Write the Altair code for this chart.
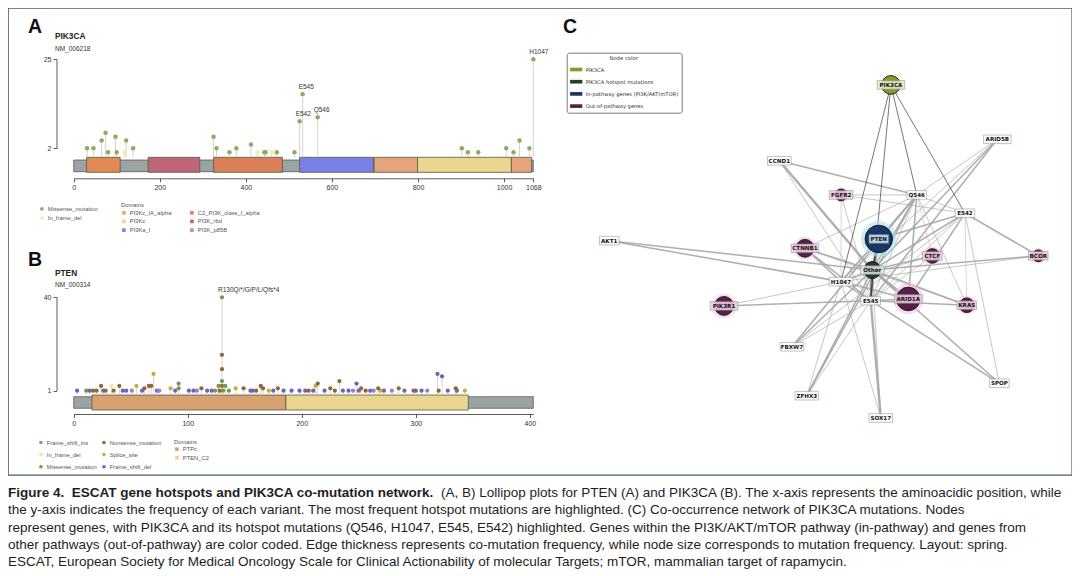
import altair as alt
import pandas as pd

# ============================ DATA ============================
# ---- Panel A : PIK3CA lollipop ----
A_GENE, A_TRANSCRIPT, A_LENGTH = "PIK3CA", "NM_006218", 1068
A_X_TICKS = [0, 200, 400, 600, 800, 1000, 1068]
A_Y_TICKS = [2, 25]
A_POS = [31, 46, 65, 74, 80, 97, 100, 118, 122, 138, 325, 332, 362, 378, 412, 427,
         443, 446, 460, 472, 513, 525, 532, 567, 902, 916, 940, 1005, 1022, 1036, 1059, 1068]
A_COUNT = [2, 2, 4, 6, 1, 5, 1, 1, 4, 2, 5, 2, 1, 2, 3, 1,
           1, 1, 1, 1, 1, 9, 16, 10, 2, 1, 1, 2, 1, 4, 2, 25]
A_TYPE = ["M", "M", "M", "M", "M", "M", "M", "I", "M", "M", "M", "M", "M", "M", "M", "I",
          "M", "M", "I", "M", "M", "M", "M", "M", "M", "M", "M", "M", "M", "M", "M", "M"]
A_HOTSPOTS = {525: "E542", 532: "E545", 567: "Q546", 1068: "H1047"}
A_TYPE_NAMES = {"M": "Missense_mutation", "I": "In_frame_del"}
A_MUT_CLASSES = ["Missense_mutation", "In_frame_del"]
A_MUT_COLORS = ["#8fab63", "#f5efa0"]
A_DOM_NAME = ["PI3K_p85B", "PI3K_rbd", "C2_PI3K_class_I_alpha", "PI3Ka_I",
              "PI3Kc_IA_alpha", "PI3Kc", "PI3Kc_IA_alpha"]
A_DOM_START = [30, 173, 325, 525, 698, 799, 1017]
A_DOM_END = [108, 293, 485, 697, 799, 1017, 1064]
A_DOM_CLASSES = ["PI3Kc_IA_alpha", "PI3Kc", "PI3Ka_I", "C2_PI3K_class_I_alpha", "PI3K_rbd", "PI3K_p85B"]
A_DOM_COLORS = ["#e6a47c", "#eed58f", "#7c7fe6", "#dc7f59", "#bf6479", "#e28a55"]

# ---- Panel B : PTEN lollipop ----
B_GENE, B_TRANSCRIPT, B_LENGTH = "PTEN", "NM_000314", 403
B_X_TICKS = [0, 100, 200, 300, 400]
B_Y_TICKS = [1, 40]
B_POS = [3, 11, 14, 17, 20, 24, 26, 28, 33, 35,
         40, 43, 46, 51, 55, 60, 62, 66, 68, 70,
         73, 75, 85, 89, 92, 92, 101, 105, 108, 112,
         117, 121, 124, 127, 128, 130, 130, 130, 130, 130,
         131, 133, 136, 142, 149, 155, 157, 160, 164, 166,
         171, 175, 179, 184, 191, 198, 203, 206, 210, 212,
         214, 220, 225, 229, 233, 236, 241, 245, 248, 250,
         252, 256, 260, 263, 267, 269, 272, 279, 285, 290,
         298, 300, 305, 310, 319, 320, 323, 328, 335, 336,
         343]
B_COUNT = [1, 1, 1, 1, 1, 3, 1, 1, 3, 1,
           3, 1, 1, 1, 3, 1, 2, 3, 3, 8,
           1, 1, 2, 1, 4, 2, 1, 1, 1, 2,
           1, 1, 1, 3, 1, 40, 16, 10, 5, 3,
           1, 3, 1, 2, 2, 1, 1, 1, 3, 2,
           1, 1, 2, 1, 1, 1, 1, 1, 1, 3,
           4, 1, 2, 1, 5, 1, 1, 1, 4, 1,
           2, 1, 1, 1, 2, 1, 1, 1, 2, 1,
           1, 1, 1, 1, 8, 1, 7, 1, 2, 1,
           1]
B_TYPE = ["FD", "MI", "FD", "NO", "NO", "NO", "FD", "NO", "ID", "NO",
          "NO", "FD", "FD", "FI", "SP", "FD", "NO", "NO", "NO", "SP",
          "FD", "FI", "SP", "FD", "MI", "MI", "FD", "FD", "FI", "NO",
          "FD", "FD", "MI", "MI", "NO", "MI", "NO", "NO", "MI", "NO",
          "MI", "MI", "MI", "SP", "NO", "FD", "FD", "NO", "NO", "NO",
          "SP", "FD", "NO", "FD", "FD", "FD", "FD", "NO", "FD", "SP",
          "NO", "FD", "NO", "NO", "NO", "FD", "FD", "FI", "FD", "FD",
          "NO", "NO", "FD", "FI", "NO", "SP", "FD", "FI", "NO", "FD",
          "FD", "NO", "FD", "FI", "FD", "NO", "FD", "FD", "NO", "FD",
          "SP"]
B_HOTSPOTS = {130: "R130Q/*/G/P/L/Qfs*4"}
B_TYPE_NAMES = {"FI": "Frame_shift_ins", "NO": "Nonsense_mutation", "ID": "In_frame_del",
                "SP": "Splice_site", "MI": "Missense_mutation", "FD": "Frame_shift_del"}
B_MUT_CLASSES = ["Frame_shift_ins", "In_frame_del", "Missense_mutation",
                 "Nonsense_mutation", "Splice_site", "Frame_shift_del"]
B_MUT_COLORS = ["#9285cb", "#f3ea98", "#74994b", "#93663a", "#c6b03c", "#7260c0"]
B_DOM_NAME = ["PTPc", "PTEN_C2"]
B_DOM_START = [16, 186]
B_DOM_END = [186, 346]
B_DOM_COLORS = ["#d8a171", "#ecd592"]

# ---- Panel C : co-mutation network (spring layout coordinates) ----
NODE_NAME = ["PIK3CA", "Q546", "E542", "H1047", "E545", "Other", "PTEN", "AKT1", "PIK3R1", "ARID1A",
             "CTNNB1", "KRAS", "CTCF", "FGFR2", "BCOR", "ARID5B", "CCND1", "FBXW7", "ZFHX3", "SOX17", "SPOP"]
NODE_X = [0.293, 0.408, 0.622, 0.071, 0.203, 0.210, 0.239, -0.959, -0.449, 0.370,
          -0.089, 0.630, 0.477, 0.072, 0.948, 0.766, -0.203, -0.147, -0.081, 0.248, 0.775]
NODE_Y = [0.971, 0.324, 0.216, -0.186, -0.298, -0.118, 0.065, 0.055, -0.329, -0.288,
          0.010, -0.325, -0.035, 0.324, -0.034, 0.651, 0.525, -0.569, -0.857, -0.988, -0.784]
NODE_GROUP = ["P", "H", "H", "H", "H", "H", "I", "I", "O", "O",
              "O", "O", "O", "O", "O", "O", "O", "O", "O", "O", "O"]
NODE_FREQ = [28, 0, 0, 0, 0, 23, 60, 0, 28, 44, 25, 17, 17, 11, 11, 0, 0, 0, 0, 0, 0]
GROUP_NAMES = {"P": "PIK3CA", "H": "PIK3CA hotspot mutations",
               "I": "In-pathway genes (PI3K/AKT/mTOR)", "O": "Out-of-pathway genes"}
GROUP_CLASSES = ["PIK3CA", "PIK3CA hotspot mutations", "In-pathway genes (PI3K/AKT/mTOR)", "Out-of-pathway genes"]
GROUP_COLORS = ["#8a9a2a", "#263d2a", "#1a3568", "#56204a"]

EDGE_SRC = ["PIK3CA", "PIK3CA", "PIK3CA", "PIK3CA",
            "Other", "PTEN", "PTEN", "PTEN", "PTEN", "PTEN",
            "Other", "Other", "Other", "H1047", "Q546", "Q546", "E542", "Q546",
            "CCND1", "CCND1", "CCND1", "ARID5B", "ARID5B", "ARID5B", "ARID5B",
            "FGFR2", "FGFR2", "FGFR2", "FGFR2", "AKT1", "AKT1",
            "CTNNB1", "CTNNB1", "CTNNB1", "CTNNB1", "CTNNB1", "PIK3R1", "PIK3R1",
            "FBXW7", "FBXW7", "FBXW7", "FBXW7", "ZFHX3", "ZFHX3", "ZFHX3", "ZFHX3",
            "SOX17", "SOX17", "SOX17", "SPOP", "SPOP", "SPOP", "BCOR", "BCOR", "BCOR",
            "KRAS", "KRAS", "KRAS", "KRAS", "ARID1A", "ARID1A", "ARID1A", "ARID1A", "ARID1A",
            "CTCF", "CTCF", "CTCF", "CTCF"]
EDGE_DST = ["Q546", "E542", "H1047", "E545",
            "E545", "Other", "E545", "H1047", "Q546", "E542",
            "H1047", "Q546", "E542", "E545", "E542", "H1047", "E545", "E545",
            "Q546", "Other", "E545", "Q546", "Other", "E545", "H1047",
            "Q546", "E542", "H1047", "E545", "H1047", "Other",
            "Other", "E545", "Q546", "KRAS", "H1047", "E545", "H1047",
            "Q546", "E545", "Other", "E542", "Other", "E545", "Q546", "H1047",
            "E545", "Other", "H1047", "E545", "E542", "Other", "Other", "E542", "H1047",
            "Other", "E545", "Q546", "E542", "Other", "E545", "H1047", "Q546", "E542",
            "Other", "E545", "Q546", "H1047"]
EDGE_W = [1, 1, 1, 1,
          3, 3, 2, 2, 2, 2,
          2, 2, 2, 2, 1, 1, 1, 1,
          2, 3, 1, 1, 2, 2, 1,
          1, 1, 1, 1, 2, 2,
          2, 2, 1, 1, 2, 2, 1,
          2, 1, 2, 1, 2, 1, 2, 1,
          3, 1, 1, 2, 1, 2, 2, 2, 1,
          2, 2, 1, 1, 3, 2, 2, 2, 2,
          2, 1, 1, 1]
EDGE_KIND = ["k", "k", "k", "k",
             "d", "d", "g", "g", "g", "g",
             "g", "g", "g", "g", "g", "g", "g", "g",
             "g", "g", "g", "g", "g", "g", "g",
             "g", "g", "p", "g", "g", "g",
             "g", "g", "g", "g", "g", "g", "g",
             "g", "g", "g", "g", "g", "g", "g", "g",
             "g", "g", "g", "g", "g", "g", "g", "g", "g",
             "g", "g", "g", "p", "g", "g", "g", "g", "g",
             "g", "g", "p", "g"]

CAPTION_BOLD = "Figure 4.\u00a0 ESCAT gene hotspots and PIK3CA co-mutation network."
CAPTION_LINES = [
    "(A, B) Lollipop plots for PTEN (A) and PIK3CA (B). The x-axis represents the aminoacidic position, while",
    "the y-axis indicates the frequency of each variant. The most frequent hotspot mutations are highlighted. (C) Co-occurrence network of PIK3CA mutations. Nodes",
    "represent genes, with PIK3CA and its hotspot mutations (Q546, H1047, E545, E542) highlighted. Genes within the PI3K/AKT/mTOR pathway (in-pathway) and genes from",
    "other pathways (out-of-pathway) are color coded. Edge thickness represents co-mutation frequency, while node size corresponds to mutation frequency. Layout: spring.",
    "ESCAT, European Society for Medical Oncology Scale for Clinical Actionability of molecular Targets; mTOR, mammalian target of rapamycin.",
]

# ============================ LAYOUT / STYLE ============================
SANS = "Liberation Sans"
NET_FONT = "DejaVu Sans"
W, H = 1064, 467
YAXIS_X = 48.5
A_XR, A_YR = [65.7, 525.3], [140.3, 51.3]
A_BACKBONE, A_BAND, A_XAXIS_Y = (152.0, 163.7), (149.3, 164.3), 170.3
B_XR, B_YR = [65.7, 525.3], [382.7, 289.3]
B_BACKBONE, B_BAND, B_XAXIS_Y = (388.7, 400.3), (387.0, 402.0), 406.0
C_XR, C_YR = [592, 1042], [412, 72]
PX_X = (C_XR[1] - C_XR[0]) / 2.0
PX_Y = (C_YR[0] - C_YR[1]) / 2.0
BOX_CHAR, BOX_PAD, BOX_H = 4.0, 3.6, 8.6
CAP_SIZE, CAP_Y0, CAP_DY, CAP_SPLIT_X = 13.5, 485.0, 17.3, 433


def x_axis(values, axis_y):
    return alt.Axis(orient="bottom", offset=axis_y - H, values=values, title=None, grid=False,
                    format="d", labelFont=SANS, labelFontSize=7, labelColor="#333",
                    labelPadding=2, labelOverlap=False, labelFlush=False,
                    tickColor="#333", tickWidth=0.8, tickSize=3.5,
                    domainColor="#333", domainWidth=0.8)


def y_axis(values):
    return alt.Axis(orient="left", offset=-YAXIS_X, values=values, title=None, grid=False,
                    format="d", labelFont=SANS, labelFontSize=7, labelColor="#333",
                    labelPadding=2, labelOverlap=False, labelFlush=False,
                    tickColor="#333", tickWidth=0.8, tickSize=3.5,
                    domainColor="#333", domainWidth=0.8)


def legend(**kw):
    base = dict(orient="none", labelFont=SANS, labelFontSize=5.8, labelColor="#555",
                titleFont=SANS, titleFontSize=5.8, titleFontWeight="normal", titleColor="#555",
                symbolSize=13, padding=0, labelOffset=3, symbolStrokeWidth=0, titlePadding=2)
    base.update(kw)
    return alt.Legend(**base)


def lollipop(pos, count, types, type_names, hotspots, length, xr, ydom, yr, xticks, yticks,
             backbone, band, axis_y, dom_name, dom_start, dom_end, mut_classes, mut_colors,
             dom_classes, dom_colors, mut_leg, dom_leg, stem_color, pt_size):
    mut = pd.DataFrame({"pos": pos, "count": count, "type": [type_names[t] for t in types]})
    mut = mut.sort_values("count").reset_index(drop=True)
    stems = mut.groupby("pos", as_index=False)["count"].max()
    stems["label"] = [hotspots.get(p, "") for p in stems["pos"]]
    doms = pd.DataFrame({"name": dom_name, "start": dom_start, "end": dom_end})
    bb = pd.DataFrame({"start": [0], "end": [length]})
    xs = alt.Scale(domain=[0, length], range=xr, nice=False, zero=False)
    ys = alt.Scale(domain=ydom, range=yr, nice=False, zero=False)
    xa, ya = x_axis(xticks, axis_y), y_axis(yticks)

    l_bb = alt.Chart(bb).mark_rect(fill="#9ba4a4", stroke="#4a4a4a", strokeWidth=0.7).encode(
        x=alt.X("start:Q", scale=xs, axis=xa), x2="end:Q",
        y=alt.value(backbone[0]), y2=alt.value(backbone[1]))
    l_dom = alt.Chart(doms).mark_rect(stroke="#4f5f35", strokeWidth=0.8).encode(
        x=alt.X("start:Q", scale=xs, axis=xa), x2="end:Q",
        y=alt.value(band[0]), y2=alt.value(band[1]),
        fill=alt.Fill("name:N", scale=alt.Scale(domain=dom_classes, range=dom_colors), legend=dom_leg))
    l_stem = alt.Chart(stems).mark_rule(color=stem_color, strokeWidth=0.8).encode(
        x=alt.X("pos:Q", scale=xs, axis=xa), y=alt.Y("count:Q", scale=ys, axis=ya),
        y2=alt.value(band[0]))
    l_pts = alt.Chart(mut).mark_circle(size=pt_size, opacity=1).encode(
        x=alt.X("pos:Q", scale=xs, axis=xa), y=alt.Y("count:Q", scale=ys, axis=ya),
        color=alt.Color("type:N", scale=alt.Scale(domain=mut_classes, range=mut_colors), legend=mut_leg))
    l_lab = alt.Chart(stems[stems["label"] != ""]).mark_text(
        align="left", baseline="bottom", dx=-4, dy=-4, font=SANS, fontSize=6.5, color="#333").encode(
        x=alt.X("pos:Q", scale=xs, axis=xa), y=alt.Y("count:Q", scale=ys, axis=ya), text="label:N")
    return alt.layer(l_bb, l_dom, l_stem, l_pts, l_lab)


panel_a = lollipop(
    A_POS, A_COUNT, A_TYPE, A_TYPE_NAMES, A_HOTSPOTS, A_LENGTH, A_XR, [2, 25], A_YR, A_X_TICKS, A_Y_TICKS,
    A_BACKBONE, A_BAND, A_XAXIS_Y, A_DOM_NAME, A_DOM_START, A_DOM_END, A_MUT_CLASSES, A_MUT_COLORS,
    A_DOM_CLASSES, A_DOM_COLORS,
    legend(title=None, legendX=31, legendY=198, rowPadding=2.2, symbolType="circle"),
    legend(title="Domains", legendX=113, legendY=194, columns=2, columnPadding=17, rowPadding=1.7,
           symbolType="square"),
    "#c9c6c6", 20)

panel_b = lollipop(
    B_POS, B_COUNT, B_TYPE, B_TYPE_NAMES, B_HOTSPOTS, B_LENGTH, B_XR, [1, 40], B_YR, B_X_TICKS, B_Y_TICKS,
    B_BACKBONE, B_BAND, B_XAXIS_Y, B_DOM_NAME, B_DOM_START, B_DOM_END, B_MUT_CLASSES, B_MUT_COLORS,
    B_DOM_NAME, B_DOM_COLORS,
    legend(title=None, legendX=30, legendY=431.5, columns=2, columnPadding=4, rowPadding=5.2,
           symbolType="circle"),
    legend(title="Domains", legendX=166, legendY=430.5, rowPadding=1.5, symbolType="square"),
    "#d3c8c8", 18)

# ---- Panel C ----
nodes = pd.DataFrame({"name": NODE_NAME, "x": NODE_X, "y": NODE_Y,
                      "group": [GROUP_NAMES[g] for g in NODE_GROUP], "freq": NODE_FREQ})
nodes["halo"] = nodes["freq"] * 1.7
nodes["halo_col"] = ["#f3c4e0" if g == "O" else ("#a9e3ea" if g == "I" else "") for g in NODE_GROUP]
box_fill = {"P": "#e4e8c4", "H": "#dfe4df", "I": "#c8e6ee", "O": "#f0cfe3"}
nodes["boxfill"] = [box_fill[g] if f > 0 else "#ffffff" for g, f in zip(NODE_GROUP, NODE_FREQ)]
hw = (nodes["name"].str.len() * BOX_CHAR + BOX_PAD) / 2.0 / PX_X
hh = BOX_H / 2.0 / PX_Y
nodes["bx1"], nodes["bx2"] = nodes["x"] - hw, nodes["x"] + hw
nodes["by1"], nodes["by2"] = nodes["y"] - hh, nodes["y"] + hh

npos = {n: (x, y) for n, x, y in zip(NODE_NAME, NODE_X, NODE_Y)}
edge_col = {"k": "#262626", "d": "#5e5e5e", "g": "#a6a6a6", "p": "#e4aacb"}
edges = pd.DataFrame({"src": EDGE_SRC, "dst": EDGE_DST, "w": EDGE_W, "kind": EDGE_KIND})
edges["x"] = [npos[s][0] for s in edges["src"]]
edges["y"] = [npos[s][1] for s in edges["src"]]
edges["x2"] = [npos[d][0] for d in edges["dst"]]
edges["y2"] = [npos[d][1] for d in edges["dst"]]
edges["col"] = [edge_col[k] for k in edges["kind"]]
edges = pd.concat([edges[edges["kind"] == "g"], edges[edges["kind"] == "p"],
                   edges[edges["kind"] == "d"], edges[edges["kind"] == "k"]])

xc = alt.Scale(domain=[-1, 1], range=C_XR, nice=False, zero=False)
yc = alt.Scale(domain=[-1, 1], range=C_YR, nice=False, zero=False)
size_sc = alt.Scale(domain=[0, 60], range=[0, 755], zero=True, nice=False)
X = alt.X("x:Q", scale=xc, axis=None)
Y = alt.Y("y:Q", scale=yc, axis=None)

c_edges = alt.Chart(edges).mark_rule(opacity=0.9).encode(
    x=X, y=Y, x2="x2:Q", y2="y2:Q",
    stroke=alt.Stroke("col:N", scale=None),
    strokeWidth=alt.StrokeWidth("w:Q", scale=alt.Scale(domain=[1, 3], range=[0.7, 2.4]), legend=None))
c_halo = alt.Chart(nodes[(nodes["freq"] > 0) & (nodes["halo_col"] != "")]).mark_circle(opacity=0.6).encode(
    x=X, y=Y, size=alt.Size("halo:Q", scale=size_sc, legend=None),
    fill=alt.Fill("halo_col:N", scale=None))
c_nodes = alt.Chart(nodes[nodes["freq"] > 0]).mark_circle(opacity=1, stroke="#141414", strokeWidth=0.9).encode(
    x=X, y=Y, size=alt.Size("freq:Q", scale=size_sc, legend=None),
    color=alt.Color("group:N", scale=alt.Scale(domain=GROUP_CLASSES, range=GROUP_COLORS),
                    legend=alt.Legend(title="Node color", orient="none", legendX=558.7, legendY=44.7,
                                      titleAnchor="middle", titleFont=NET_FONT, titleFontSize=5.3,
                                      titleFontWeight="normal", titleColor="#333", titlePadding=2,
                                      labelFont=NET_FONT, labelFontSize=5.2, labelColor="#333",
                                      symbolType="M-1,-0.3L1,-0.3L1,0.3L-1,0.3Z", symbolSize=150,
                                      symbolStrokeWidth=0, symbolOpacity=1, rowPadding=2.2, labelOffset=3,
                                      padding=3, strokeColor="#7a7a7a", fillColor="#ffffff",
                                      cornerRadius=2)))
c_boxes = alt.Chart(nodes).mark_rect(stroke="#8a8a8a", strokeWidth=0.6, opacity=0.88).encode(
    x=alt.X("bx1:Q", scale=xc, axis=None), x2="bx2:Q",
    y=alt.Y("by1:Q", scale=yc, axis=None), y2="by2:Q",
    fill=alt.Fill("boxfill:N", scale=None))
c_text = alt.Chart(nodes).mark_text(font=NET_FONT, fontWeight="bold", fontSize=5.6, color="#141414",
                                    align="center", baseline="middle").encode(x=X, y=Y, text="name:N")
panel_c = alt.layer(c_edges, c_halo, c_nodes, c_boxes, c_text)


def text_layer(txt, x, y, size, weight="normal", font=SANS, color="#1a1a1a", align="left", baseline="alphabetic"):
    return alt.Chart(pd.DataFrame({"t": [txt]})).mark_text(
        align=align, baseline=baseline, font=font, fontSize=size, fontWeight=weight, color=color
    ).encode(x=alt.value(x), y=alt.value(y), text="t:N")


titles = [
    text_layer("A", 20, 24.5, 19.5, "bold", color="#111"),
    text_layer(A_GENE, 47, 31, 8.3, "bold", color="#222"),
    text_layer(A_TRANSCRIPT, 47, 42.5, 6.5, color="#333"),
    text_layer("B", 20, 258, 19.5, "bold", color="#111"),
    text_layer(B_GENE, 47, 268.3, 8.3, "bold", color="#222"),
    text_layer(B_TRANSCRIPT, 47, 279, 6.5, color="#333"),
    text_layer("C", 555, 25.3, 19.5, "bold", color="#111"),
]
caption = [text_layer(CAPTION_BOLD, 0, CAP_Y0, CAP_SIZE, "bold", font=SANS, color="#1e1e1e", baseline="middle")]
caption.append(text_layer(CAPTION_LINES[0], CAP_SPLIT_X, CAP_Y0, CAP_SIZE, font=SANS, color="#1e1e1e", baseline="middle"))
for i, line in enumerate(CAPTION_LINES[1:], start=1):
    caption.append(text_layer(line, 0, CAP_Y0 + i * CAP_DY, CAP_SIZE, font=SANS, color="#1e1e1e", baseline="middle"))

chart = alt.layer(panel_a, panel_b, panel_c, *titles, *caption).resolve_scale(
    x="independent", y="independent", color="independent", fill="independent",
    size="independent", strokeWidth="independent", stroke="independent"
).properties(
    width=W, height=H, padding=0, background="#ffffff",
    autosize=alt.AutoSizeParams(type="pad")
).configure_view(stroke="#47644f", strokeWidth=1.4)

chart.save("out.html", embed_options={"renderer": "svg", "actions": False})
